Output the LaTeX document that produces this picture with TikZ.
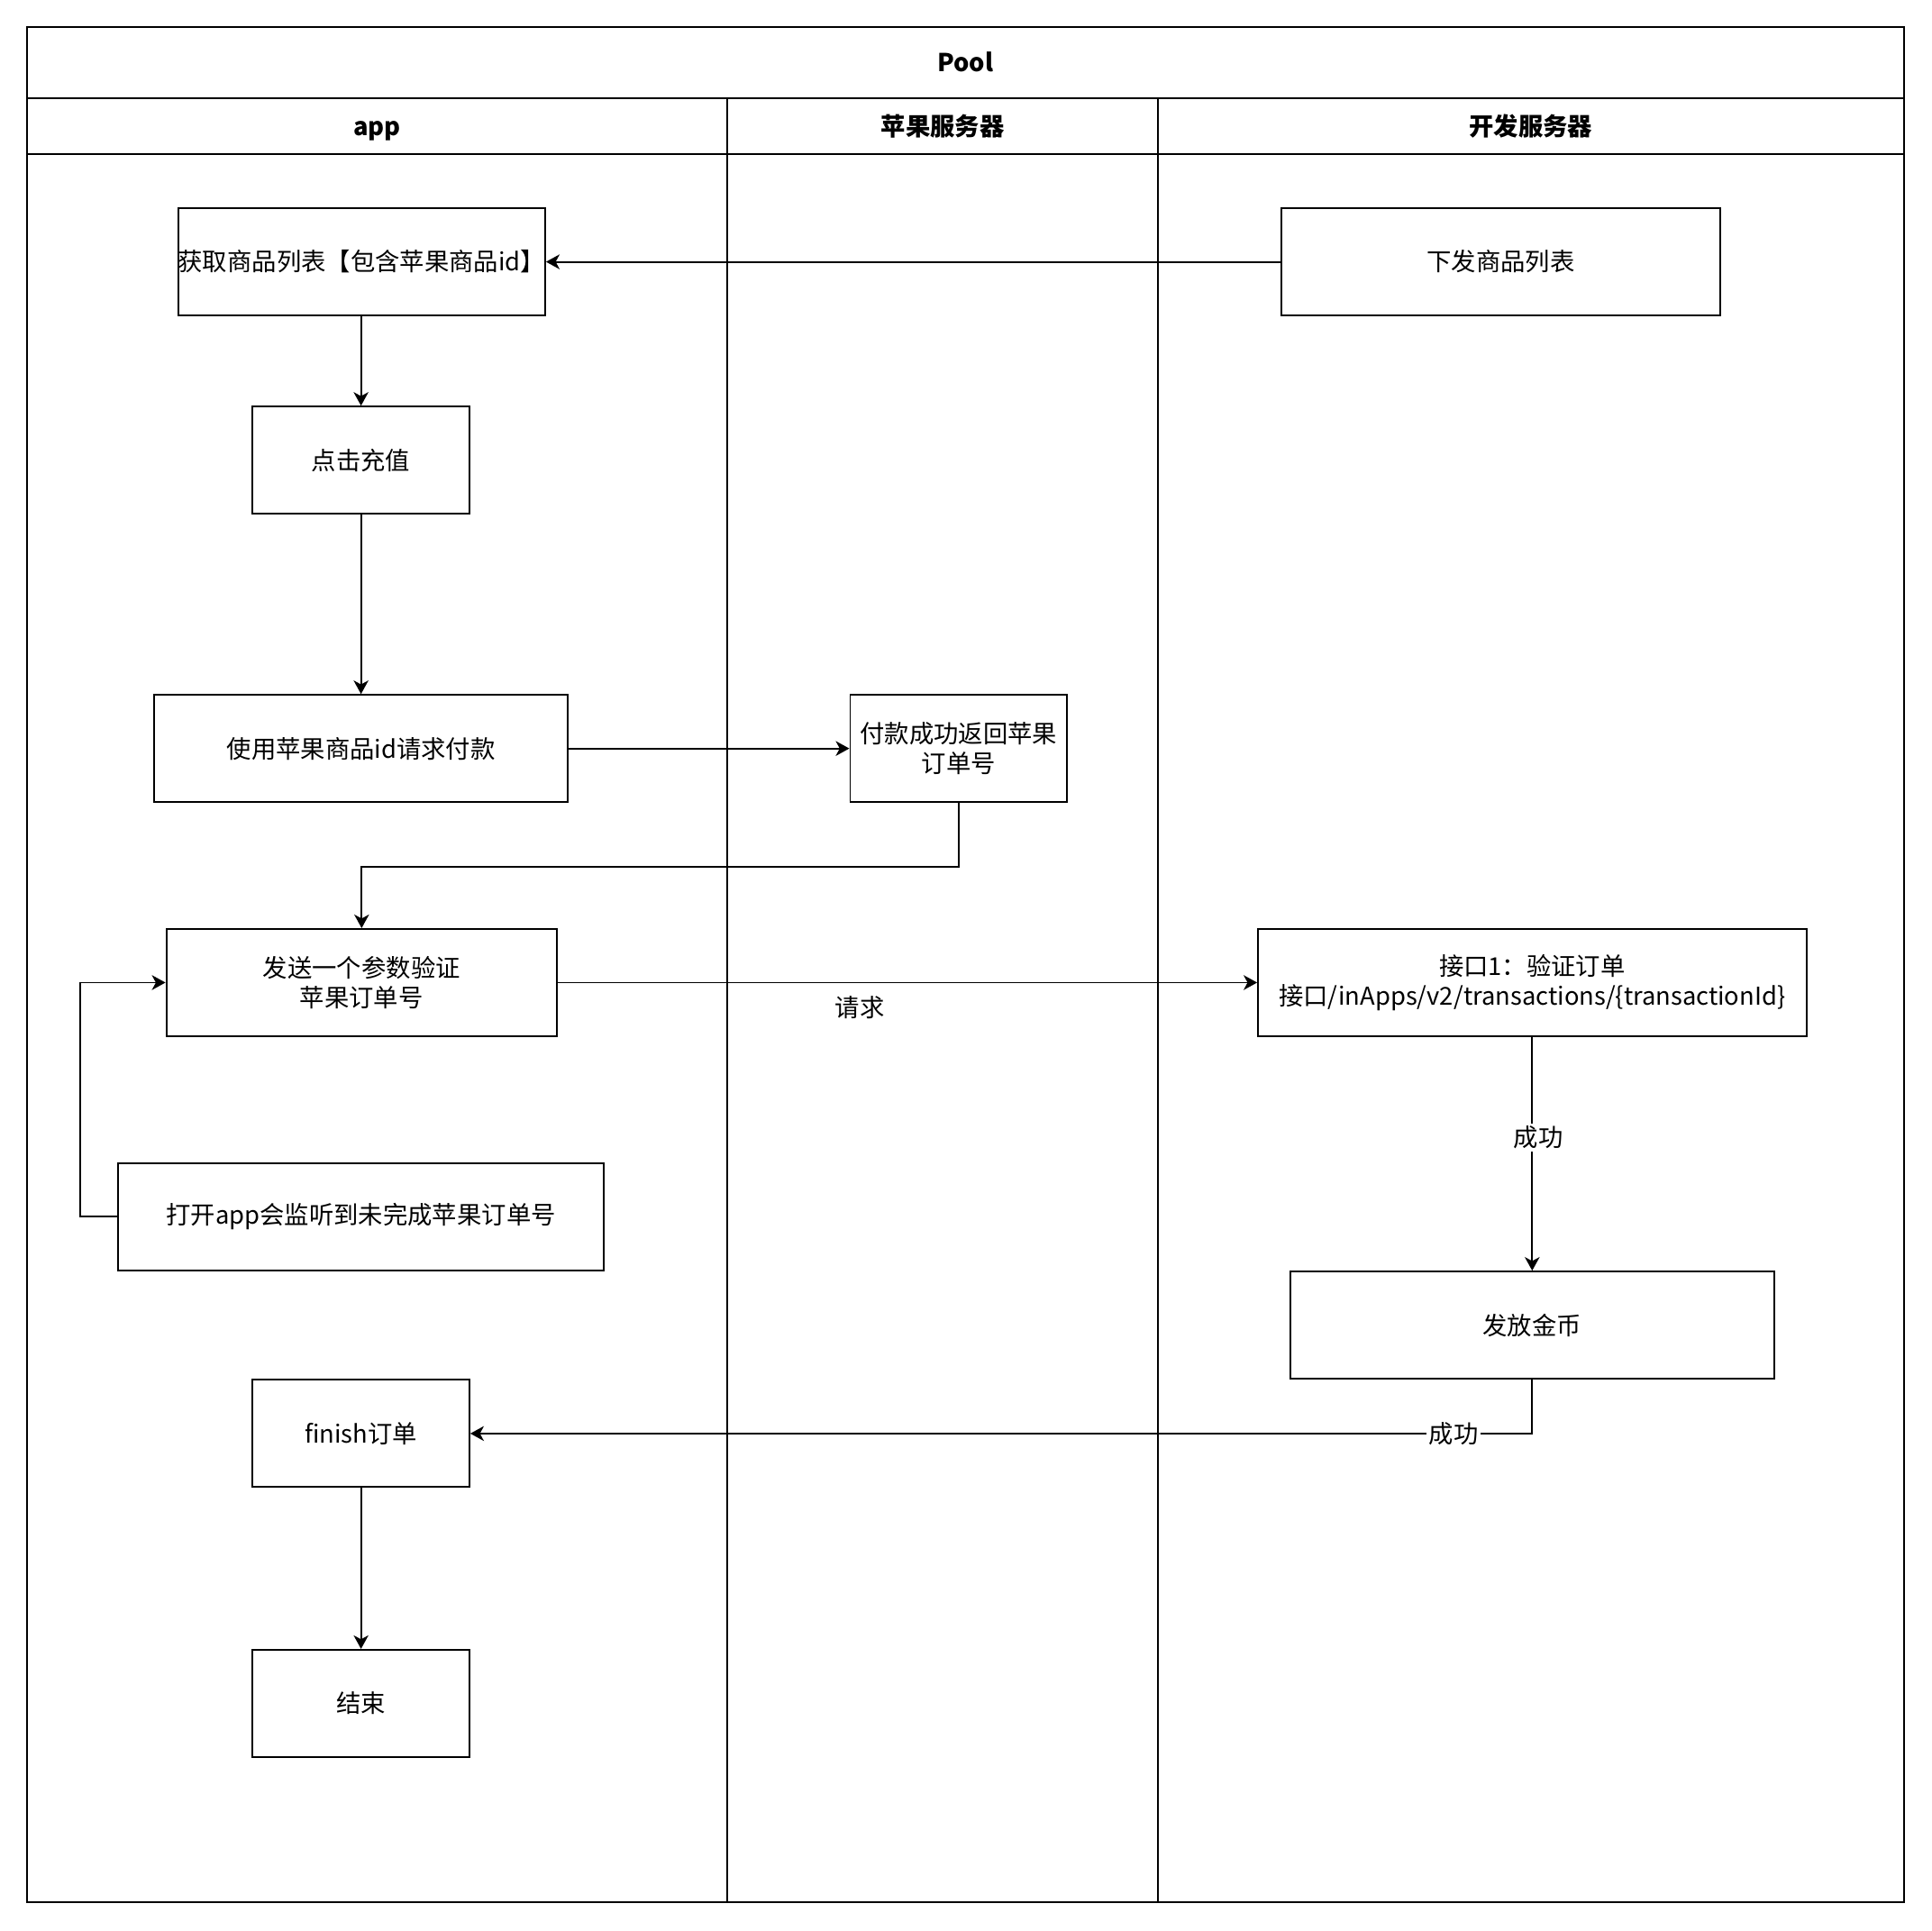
\documentclass[tikz,border=0pt]{standalone}
\usepackage{fontspec}
\setmainfont{Noto Sans CJK SC}
\usetikzlibrary{arrows.meta}
\begin{document}
\begin{tikzpicture}[x=0.5pt,y=-0.5pt,line width=0.7pt,
  box/.style={draw,rectangle,inner sep=0pt,align=center,minimum height=43.5pt,font=\fontsize{10}{12}\selectfont},
  arr/.style={-{Stealth[length=5.5pt,width=6pt,inset=1.6pt]}},
  hdr/.style={font=\fontsize{10}{12}\selectfont\bfseries,inner sep=0pt,text height=8.6pt,text depth=1.4pt},
  lbl/.style={font=\fontsize{10}{12}\selectfont,inner sep=1pt,fill=white}]
\useasboundingbox (0,0) rectangle (1568,1567);
% pool frame
\draw (22,22) rectangle (1545,1544);
\draw (22,80) -- (1545,80);
\draw (22,125) -- (1545,125);
\draw (590,80) -- (590,1544);
\draw (940,80) -- (940,1544);
\node[hdr] (pool) at (783.5,51) {Pool};
\node[hdr] (lapp) at (306,103) {app};
\node[hdr] (lapple) at (765,103) {苹果服务器};
\node[hdr] (ldev) at (1242.5,103) {开发服务器};
% nodes
\node[box,minimum width=148.5pt] (n1) at (293.5,212.5) {获取商品列表【包含苹果商品id】};
\node[box,minimum width=178pt] (n2) at (1218,212.5) {下发商品列表};
\node[box,minimum width=88pt] (n3) at (293,373.5) {点击充值};
\node[box,minimum width=168pt] (n4) at (293,607.5) {使用苹果商品id请求付款};
\node[box,minimum width=88pt] (n5) at (778,607.5) {付款成功返回苹果\\订单号};
\node[box,minimum width=158.5pt] (n6) at (293.5,797.5) {发送一个参数验证\\苹果订单号};
\node[box,minimum width=222.5pt] (n7) at (1243.5,797.5) {接口1：验证订单\\接口/inApps/v2/transactions/\{transactionId\}};
\node[box,minimum width=197pt] (n8) at (293,987.5) {打开app会监听到未完成苹果订单号};
\node[box,minimum width=196.5pt] (n9) at (1243.5,1075.5) {发放金币};
\node[box,minimum width=88pt] (n10) at (293,1163.5) {finish订单};
\node[box,minimum width=88pt] (n11) at (293,1382.5) {结束};
% edges
\draw[arr] (n2) -- (n1);
\draw[arr] (n1.south -| n3) -- (n3.north);
\draw[arr] (n3) -- (n4);
\draw[arr] (n4) -- (n5);
\draw[arr] (n5.south) -- ++(0,52) -| (n6.north);
\draw[arr] (n6) -- node[pos=0.432,below=5pt,inner sep=0pt,font=\fontsize{10}{12}\selectfont] {请求} (n7);
\draw[arr] (n8.west) -- ++(-30,0) |- (n6.west);
\draw[arr] (n7) -- node[pos=0.43,lbl,xshift=2.5pt] {成功} (n9);
\draw[arr] (n9.south) |- node[pos=0.537,lbl] {成功} (n10.east);
\draw[arr] (n10) -- (n11);
\end{tikzpicture}
\end{document}
